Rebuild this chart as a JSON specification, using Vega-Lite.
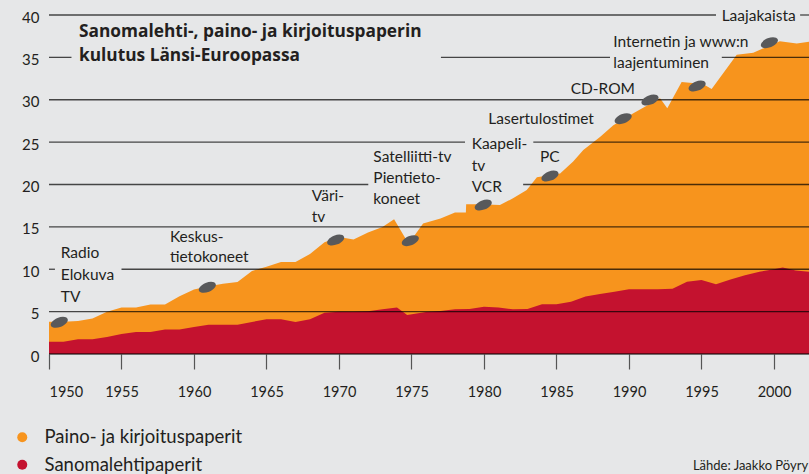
{
  "$schema": "https://vega.github.io/schema/vega-lite/v6.json",
  "width": 760,
  "height": 339,
  "autosize": {"type": "none"},
  "padding": {"left": 49, "top": 15, "right": 0, "bottom": 120},
  "background": "#e6e7e8",
  "config": {
    "view": {"stroke": null},
    "font": "Lato",
    "axisX": {"domain": false, "grid": false, "tickSize": 15, "tickColor": "#555555", "tickWidth": 1.2, "labelFont": "Lato", "labelFontSize": 14.5, "labelColor": "#231f20", "labelPadding": 16, "format": "d"},
    "axisY": {"domain": false, "grid": false, "ticks": false, "labelFont": "Lato", "labelFontSize": 15, "labelColor": "#231f20", "labelPadding": 10, "labelOffset": 2},
    "legend": {"orient": "none", "legendX": -36, "legendY": 413, "symbolType": "circle", "symbolSize": 100, "symbolStrokeWidth": 0, "labelFont": "Lato", "labelFontSize": 18.5, "labelColor": "#231f20", "labelOffset": 13, "labelLimit": 0, "rowPadding": 8.5, "padding": 0, "title": null}
  },
  "datasets": {
    "paino": [
      {"year": 1950, "value": 3.8}, {"year": 1951, "value": 3.8}, {"year": 1952, "value": 3.9}, {"year": 1953, "value": 4.2},
      {"year": 1954, "value": 5.0}, {"year": 1955, "value": 5.5}, {"year": 1956, "value": 5.5}, {"year": 1957, "value": 5.85},
      {"year": 1958, "value": 5.85}, {"year": 1959, "value": 6.8}, {"year": 1960, "value": 7.6}, {"year": 1961, "value": 8.0},
      {"year": 1962, "value": 8.3}, {"year": 1963, "value": 8.5}, {"year": 1964, "value": 9.8}, {"year": 1965, "value": 10.3},
      {"year": 1966, "value": 10.85}, {"year": 1967, "value": 10.85}, {"year": 1968, "value": 11.8}, {"year": 1969, "value": 13.2},
      {"year": 1970, "value": 13.8}, {"year": 1971, "value": 13.5}, {"year": 1972, "value": 14.35}, {"year": 1973, "value": 15.0},
      {"year": 1973.8, "value": 15.9}, {"year": 1974.8, "value": 13.0}, {"year": 1975.8, "value": 15.4}, {"year": 1977, "value": 16.0},
      {"year": 1978, "value": 16.7}, {"year": 1978.75, "value": 16.7}, {"year": 1978.77, "value": 17.66}, {"year": 1979.7, "value": 17.66},
      {"year": 1981.1, "value": 17.58}, {"year": 1982.0, "value": 18.37}, {"year": 1982.95, "value": 19.35}, {"year": 1983.65, "value": 20.85},
      {"year": 1985.25, "value": 21.3}, {"year": 1986.15, "value": 22.7}, {"year": 1986.85, "value": 24.07}, {"year": 1988.0, "value": 25.6},
      {"year": 1988.92, "value": 27.0}, {"year": 1990.3, "value": 28.4}, {"year": 1992.14, "value": 30.17}, {"year": 1992.64, "value": 29.0},
      {"year": 1993.63, "value": 32.1}, {"year": 1995.1, "value": 31.86}, {"year": 1995.7, "value": 31.27}, {"year": 1997.43, "value": 35.3},
      {"year": 1998.57, "value": 35.55}, {"year": 2000.4, "value": 36.9}, {"year": 2001.57, "value": 36.65}, {"year": 2002.414, "value": 36.85}
    ],
    "sanoma": [
      {"year": 1950, "value": 1.45}, {"year": 1951, "value": 1.45}, {"year": 1952, "value": 1.73}, {"year": 1953, "value": 1.73},
      {"year": 1954, "value": 2.0}, {"year": 1955, "value": 2.36}, {"year": 1956, "value": 2.6}, {"year": 1957, "value": 2.6},
      {"year": 1958, "value": 2.9}, {"year": 1959, "value": 2.9}, {"year": 1960, "value": 3.2}, {"year": 1961, "value": 3.46},
      {"year": 1962, "value": 3.46}, {"year": 1963, "value": 3.46}, {"year": 1964, "value": 3.78}, {"year": 1965, "value": 4.1},
      {"year": 1966, "value": 4.1}, {"year": 1967, "value": 3.78}, {"year": 1968, "value": 4.1}, {"year": 1969, "value": 4.88},
      {"year": 1970, "value": 5.0}, {"year": 1971, "value": 5.0}, {"year": 1972, "value": 5.05}, {"year": 1973, "value": 5.27},
      {"year": 1974, "value": 5.5}, {"year": 1974.7, "value": 4.6}, {"year": 1976, "value": 4.96}, {"year": 1977, "value": 5.07},
      {"year": 1978, "value": 5.27}, {"year": 1979, "value": 5.3}, {"year": 1980, "value": 5.58}, {"year": 1981, "value": 5.5},
      {"year": 1982, "value": 5.27}, {"year": 1983, "value": 5.3}, {"year": 1984, "value": 5.86}, {"year": 1985, "value": 5.86},
      {"year": 1986, "value": 6.17}, {"year": 1987, "value": 6.77}, {"year": 1988, "value": 7.08}, {"year": 1989, "value": 7.35},
      {"year": 1990, "value": 7.63}, {"year": 1991, "value": 7.63}, {"year": 1992, "value": 7.63}, {"year": 1993, "value": 7.7},
      {"year": 1994, "value": 8.53}, {"year": 1995, "value": 8.73}, {"year": 1996, "value": 8.22}, {"year": 1997, "value": 8.8},
      {"year": 1998, "value": 9.3}, {"year": 1999, "value": 9.7}, {"year": 2000, "value": 10.0}, {"year": 2000.6, "value": 10.2},
      {"year": 2001.5, "value": 9.85}, {"year": 2002.414, "value": 9.7}
    ],
    "grid": [
      {"y": 40, "x": 1950, "x2": 1996.0}, {"y": 40, "x": 2001.8, "x2": 2002.414},
      {"y": 35, "x": 1950, "x2": 1951.55}, {"y": 35, "x": 1977.03, "x2": 1988.69}, {"y": 35, "x": 1996.4, "x2": 2002.414},
      {"y": 30, "x": 1950, "x2": 2002.414},
      {"y": 25, "x": 1950, "x2": 1978.69}, {"y": 25, "x": 1983.4, "x2": 2002.414},
      {"y": 20, "x": 1950, "x2": 1972.02}, {"y": 20, "x": 1982.7, "x2": 2002.414},
      {"y": 15, "x": 1950, "x2": 2002.414},
      {"y": 10, "x": 1950, "x2": 1950.41}, {"y": 10, "x": 1955.0, "x2": 2002.414},
      {"y": 5, "x": 1950, "x2": 2002.414},
      {"y": 0, "x": 1950, "x2": 2002.414}
    ],
    "events": [
      {"year": 1950.71, "value": 3.74}, {"year": 1960.92, "value": 7.87}, {"year": 1969.77, "value": 13.45},
      {"year": 1974.92, "value": 13.37}, {"year": 1979.95, "value": 17.58}, {"year": 1984.55, "value": 21.0},
      {"year": 1989.6, "value": 27.77}, {"year": 1991.45, "value": 29.97}, {"year": 1994.7, "value": 31.62},
      {"year": 1999.68, "value": 36.73}
    ],
    "labels": [
      {"year": 1950.81, "value": 11.92, "text": "Radio"},
      {"year": 1950.81, "value": 9.38, "text": "Elokuva"},
      {"year": 1950.81, "value": 6.76, "text": "TV"},
      {"year": 1958.34, "value": 13.84, "text": "Keskus-"},
      {"year": 1958.34, "value": 11.41, "text": "tietokoneet"},
      {"year": 1968.12, "value": 18.7, "text": "Väri-"},
      {"year": 1968.12, "value": 16.2, "text": "tv"},
      {"year": 1972.37, "value": 23.28, "text": "Satelliitti-tv"},
      {"year": 1972.37, "value": 20.75, "text": "Pientieto-"},
      {"year": 1972.37, "value": 18.3, "text": "koneet"},
      {"year": 1979.15, "value": 24.78, "text": "Kaapeli-"},
      {"year": 1979.15, "value": 22.18, "text": "tv"},
      {"year": 1979.15, "value": 19.74, "text": "VCR"},
      {"year": 1983.86, "value": 23.28, "text": "PC"},
      {"year": 1980.3, "value": 27.73, "text": "Lasertulostimet"},
      {"year": 1985.98, "value": 31.27, "text": "CD-ROM"},
      {"year": 1988.92, "value": 36.78, "text": "Internetin ja www:n"},
      {"year": 1988.92, "value": 34.3, "text": "laajentuminen"},
      {"year": 1996.39, "value": 39.88, "text": "Laajakaista"}
    ],
    "title": [
      {"year": 1952.07, "value": 37.96, "text": "Sanomalehti-, paino- ja kirjoituspaperin"},
      {"year": 1952.07, "value": 35.16, "text": "kulutus Länsi-Euroopassa"}
    ],
    "source": [
      {"year": 1994.41, "value": -13.2, "text": "Lähde: Jaakko Pöyry"}
    ]
  },
  "layer": [
    {
      "data": {"name": "paino"},
      "mark": {"type": "area", "interpolate": "linear"},
      "encoding": {
        "x": {"field": "year", "type": "quantitative", "scale": {"domain": [1950, 2002.414], "nice": false, "zero": false}, "title": null, "axis": {"values": [1950, 1955, 1960, 1965, 1970, 1975, 1980, 1985, 1990, 1995, 2000]}},
        "y": {"field": "value", "type": "quantitative", "scale": {"domain": [0, 40], "nice": false}, "title": null, "axis": {"values": [0, 5, 10, 15, 20, 25, 30, 35, 40]}},
        "color": {"datum": "Paino- ja kirjoituspaperit", "type": "nominal", "scale": {"domain": ["Paino- ja kirjoituspaperit", "Sanomalehtipaperit"], "range": ["#f7941d", "#c4122f"]}}
      }
    },
    {
      "data": {"name": "sanoma"},
      "mark": {"type": "area", "interpolate": "linear"},
      "encoding": {
        "x": {"field": "year", "type": "quantitative", "title": null},
        "y": {"field": "value", "type": "quantitative", "title": null},
        "color": {"datum": "Sanomalehtipaperit", "type": "nominal"}
      }
    },
    {
      "data": {"name": "grid"},
      "mark": {"type": "rule", "color": "#000000", "opacity": 0.7, "strokeWidth": 1.3},
      "encoding": {
        "x": {"field": "x", "type": "quantitative", "title": null},
        "x2": {"field": "x2"},
        "y": {"field": "y", "type": "quantitative", "title": null}
      }
    },
    {
      "data": {"name": "events"},
      "mark": {"type": "point", "filled": true, "opacity": 1, "color": "#58595b", "shape": "M-1,0A1,0.52 0 1,1 1,0A1,0.52 0 1,1 -1,0Z", "size": 324, "angle": -22},
      "encoding": {
        "x": {"field": "year", "type": "quantitative", "title": null},
        "y": {"field": "value", "type": "quantitative", "title": null}
      }
    },
    {
      "data": {"name": "labels"},
      "mark": {"type": "text", "align": "left", "baseline": "middle", "font": "Lato", "fontSize": 15.5, "color": "#231f20"},
      "encoding": {
        "x": {"field": "year", "type": "quantitative", "title": null},
        "y": {"field": "value", "type": "quantitative", "title": null},
        "text": {"field": "text"}
      }
    },
    {
      "data": {"name": "title"},
      "mark": {"type": "text", "align": "left", "baseline": "middle", "font": "Open Sans", "fontSize": 17.3, "fontWeight": "bold", "color": "#231f20"},
      "encoding": {
        "x": {"field": "year", "type": "quantitative", "title": null},
        "y": {"field": "value", "type": "quantitative", "title": null},
        "text": {"field": "text"}
      }
    },
    {
      "data": {"name": "source"},
      "mark": {"type": "text", "align": "left", "baseline": "middle", "font": "Lato", "fontSize": 13, "color": "#231f20"},
      "encoding": {
        "x": {"field": "year", "type": "quantitative", "title": null},
        "y": {"field": "value", "type": "quantitative", "title": null},
        "text": {"field": "text"}
      }
    }
  ]
}
